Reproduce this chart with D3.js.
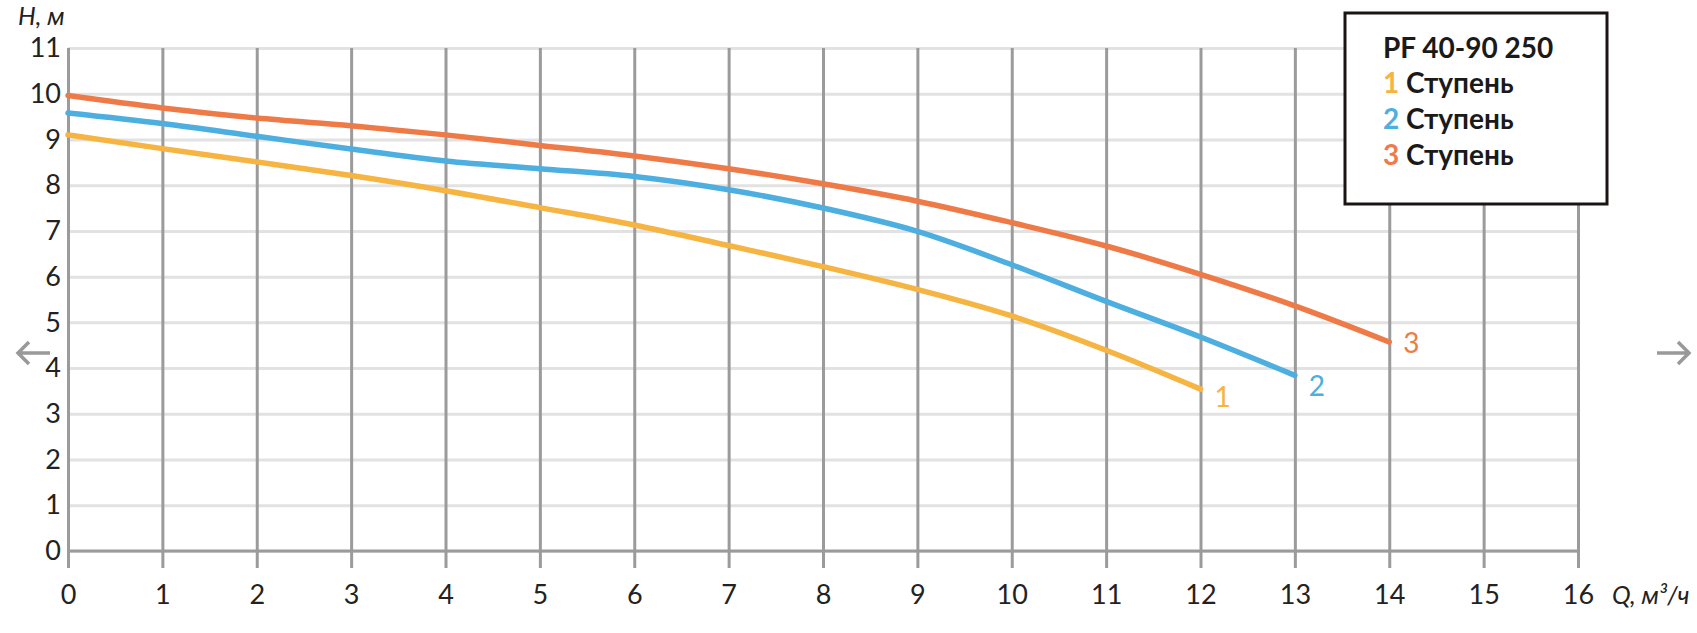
<!DOCTYPE html>
<html lang="ru">
<head>
<meta charset="utf-8">
<script src="https://cdn.jsdelivr.net/npm/d3@7"></script>
<style type="text/css">
    body { margin: 0; background: #fff; }
    .grid line { stroke-width: 3px; }
    .grid path { display: none; }
    .axis text {
        font-family: Lato, "Open Sans", sans-serif;
        font-size: 27px;
        fill: #222;
    }
    .title {
        font-family: Lato, "Open Sans", sans-serif;
        font-style: italic;
        font-size: 25px;
        fill: #222;
    }
    .legend text {
        font-family: Lato, "Open Sans", sans-serif;
        font-weight: bold;
        font-size: 28px;
        fill: #1a1a1a;
    }
</style>
</head>
<body>
<script>
// flow Q, m3/h and head H, m per stage
const flowTicks = [0, 1, 2, 3, 4, 5, 6, 7, 8, 9, 10, 11, 12, 13, 14, 15, 16];
const headTicks = [0, 1, 2, 3, 4, 5, 6, 7, 8, 9, 10, 11];
const stageNames = ["1", "2", "3"];
const stageColors = ["#F6B443", "#4DAEE0", "#EE7B47"];
const flow = [0, 1, 2, 3, 4, 5, 6, 7, 8, 9, 10, 11, 12, 13, 14];
const stage1 = [9.10, 8.80, 8.51, 8.21, 7.88, 7.51, 7.13, 6.68, 6.22, 5.72, 5.14, 4.39, 3.54];
const stage2 = [9.58, 9.35, 9.07, 8.79, 8.53, 8.36, 8.19, 7.90, 7.50, 6.99, 6.26, 5.46, 4.68, 3.84];
const stage3 = [9.96, 9.69, 9.47, 9.30, 9.10, 8.87, 8.64, 8.36, 8.03, 7.65, 7.18, 6.67, 6.05, 5.36, 4.57];
const legendTitle = "PF 40-90 250";
const legendWord = "Ступень";

const w = 1697, h = 633;
const padLeft = 68, padRight = 1578, padTop = 48, padBottom = 551;

let svg = d3.select("body").append("svg")
    .attr("width", w)
    .attr("height", h);

let xScale = d3.scaleLinear().domain([0, 16]).range([padLeft, padRight]);
let yScale = d3.scaleLinear().domain([0, 11]).range([padBottom, padTop]);

// horizontal light grid + y labels
let yAxis = d3.axisLeft(yScale)
    .tickValues(headTicks)
    .tickFormat(d3.format("d"))
    .tickSize(-(padRight - padLeft))
    .tickPadding(7);
svg.append("g")
    .attr("class", "axis grid")
    .attr("transform", "translate(" + padLeft + ",0)")
    .call(yAxis)
    .call(g => g.selectAll("line").attr("stroke", "#e2e2e2"));

// zero line
svg.append("line")
    .attr("x1", xScale(0)).attr("x2", xScale(16))
    .attr("y1", yScale(0)).attr("y2", yScale(0))
    .attr("stroke", "#9b9b9b")
    .attr("stroke-width", 3);

// vertical dark grid + x labels
let xAxis = d3.axisBottom(xScale)
    .tickValues(flowTicks)
    .tickFormat(d3.format("d"))
    .tickSize(-(padBottom + 17 - padTop))
    .tickPadding(17);
svg.append("g")
    .attr("class", "axis grid")
    .attr("transform", "translate(0," + (padBottom + 17) + ")")
    .call(xAxis)
    .call(g => g.selectAll("line").attr("stroke", "#9b9b9b"));

// axis titles
svg.append("text").attr("class", "title")
    .attr("x", 18).attr("y", 25)
    .text("H, м");
svg.append("text").attr("class", "title")
    .attr("x", 1612).attr("y", 604)
    .text("Q, м³/ч");

// curves
const stages = [stage1, stage2, stage3];
const labelDy = [18, 21, 11];
let line = d3.line()
    .x((d, i) => xScale(flow[i]))
    .y(d => yScale(d))
    .curve(d3.curveMonotoneX);

stages.forEach((s, k) => {
    svg.append("path")
        .datum(s)
        .attr("d", line)
        .attr("fill", "none")
        .attr("stroke", stageColors[k])
        .attr("stroke-width", 5.5)
        .attr("stroke-linecap", "round")
        .attr("stroke-linejoin", "round");

    let last = s.length - 1;
    svg.append("text")
        .attr("x", xScale(flow[last]) + 22)
        .attr("y", yScale(s[last]) + labelDy[k])
        .attr("text-anchor", "middle")
        .attr("font-family", "Lato, 'Open Sans', sans-serif")
        .attr("font-size", "28px")
        .attr("fill", stageColors[k])
        .text(stageNames[k]);
});

// legend
let legend = svg.append("g").attr("class", "legend");
legend.append("rect")
    .attr("x", 1345).attr("y", 13)
    .attr("width", 262).attr("height", 191)
    .attr("fill", "#fff")
    .attr("stroke", "#1a1414")
    .attr("stroke-width", 3);
legend.append("text")
    .attr("x", 1383).attr("y", 58)
    .text(legendTitle);
stageNames.forEach((n, k) => {
    let t = legend.append("text")
        .attr("x", 1383).attr("y", 93 + k * 36);
    t.append("tspan").attr("fill", stageColors[k]).text(n);
    t.append("tspan").text(" " + legendWord);
});

// slider arrows at the sides: [tail, tip, barb direction]
const arrows = [[50, 18, 1], [1657, 1689, -1]];
arrows.forEach(a => {
    let tip = a[1], dir = a[2];
    svg.append("path")
        .attr("d", "M" + a[0] + ",353 L" + tip + ",353 M" + (tip + dir * 11) + ",342 L" + tip + ",353 L" + (tip + dir * 11) + ",364")
        .attr("fill", "none")
        .attr("stroke", "#999")
        .attr("stroke-width", 3.5);
});
</script>
</body>
</html>
